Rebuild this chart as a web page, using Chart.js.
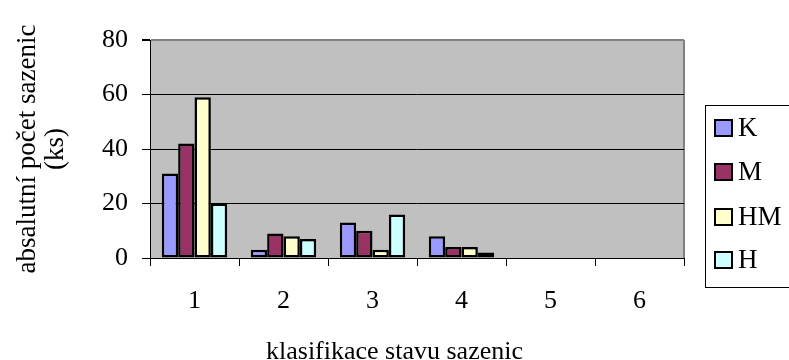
<!DOCTYPE html>
<html>
<head>
<meta charset="utf-8">
<script src="https://cdn.jsdelivr.net/npm/chart.js@4/dist/chart.umd.min.js"></script>
<style>
  html, body { margin: 0; padding: 0; background: #fff; }
  #wrap { width: 789px; height: 360px; }
</style>
</head>
<body>
<div id="wrap"><canvas id="c" width="789" height="360"></canvas></div>
<script>
// Classification grades of seedlings
const categories = ['1', '2', '3', '4', '5', '6'];

// Absolute seedling counts per grade
const seriesK  = [31, 3, 13, 8, 0, 0];
const seriesM  = [42, 9, 10, 4, 0, 0];
const seriesHM = [59, 8, 3, 4, 0, 0];
const seriesH  = [20, 7, 16, 2, 0, 0];

const seriesNames = ['K', 'M', 'HM', 'H'];
const yTicks = [0, 20, 40, 60, 80];

const xTitle = 'klasifikace stavu sazenic';
const yTitle = ['absalutní počet sazenic', '(ks)'];

const FONT = '"Liberation Serif", "Times New Roman", serif';

// Grey plot area with a thin border on the right
const plotBackground = {
  id: 'plotBackground',
  beforeDraw(chart) {
    const { ctx, chartArea: a } = chart;
    ctx.save();
    ctx.fillStyle = '#C0C0C0';
    ctx.fillRect(a.left, a.top, a.right - a.left, a.bottom - a.top);
    ctx.strokeStyle = '#808080';
    ctx.lineWidth = 2;
    ctx.beginPath();
    ctx.moveTo(a.right, a.top);
    ctx.lineTo(a.right, a.bottom);
    ctx.stroke();
    ctx.restore();
  }
};

// X axis title centred on the canvas, and a boxed legend on the right
const extras = {
  id: 'extras',
  afterDraw(chart) {
    const { ctx } = chart;
    ctx.save();
    ctx.fillStyle = '#000';
    ctx.font = '26px ' + FONT;
    ctx.textAlign = 'center';
    ctx.textBaseline = 'alphabetic';
    ctx.fillText(xTitle, chart.width / 2, 359);

    // legend frame
    ctx.strokeStyle = '#000';
    ctx.lineWidth = 1;
    ctx.strokeRect(705.5, 105.5, 100, 182);

    ctx.font = '27px ' + FONT;
    const rows = [128, 172, 217, 260];
    chart.data.datasets.forEach((ds, i) => {
      const cy = rows[i];
      ctx.fillStyle = ds.backgroundColor;
      ctx.fillRect(715, cy - 8, 17, 16);
      ctx.lineWidth = 2;
      ctx.strokeStyle = '#000';
      ctx.strokeRect(715, cy - 8, 17, 16);
      ctx.fillStyle = '#000';
      ctx.textAlign = 'left';
      ctx.textBaseline = 'middle';
      ctx.fillText(ds.label, 738, cy + 1);
    });
    ctx.restore();
  }
};

const colors = ['#9999FF', '#993366', '#FFFFCC', '#CCFFFF'];
const values = [seriesK, seriesM, seriesHM, seriesH];

new Chart(document.getElementById('c'), {
  type: 'bar',
  data: {
    labels: categories,
    datasets: seriesNames.map((name, i) => ({
      label: name,
      data: values[i],
      backgroundColor: colors[i],
      borderColor: '#000',
      borderWidth: 2.5,
      borderSkipped: false,
      categoryPercentage: 0.735,
      barPercentage: 1.0
    }))
  },
  options: {
    responsive: false,
    animation: false,
    devicePixelRatio: 1,
    layout: { padding: { top: 40, right: 105, bottom: 0, left: 0 } },
    plugins: {
      legend: { display: false },
      tooltip: { enabled: false }
    },
    scales: {
      x: {
        offset: true,
        grid: {
          display: true,
          drawOnChartArea: false,
          drawTicks: true,
          tickLength: 8,
          tickColor: '#000',
          offset: true
        },
        border: { display: true, color: '#000', width: 1 },
        ticks: {
          color: '#000',
          font: { family: FONT, size: 26 },
          padding: 20,
          maxRotation: 0
        },
        afterFit(scale) { scale.height = 102; }
      },
      y: {
        min: 0,
        max: 80,
        afterBuildTicks(scale) {
          scale.ticks = yTicks.map(v => ({ value: v }));
        },
        grid: {
          drawTicks: true,
          tickLength: 8,
          tickColor: '#000',
          color: ctx => (ctx.tick && ctx.tick.value === 80 ? '#808080' : '#000'),
          lineWidth: ctx => (ctx.tick && ctx.tick.value === 80 ? 2 : 1)
        },
        border: { display: true, color: '#000', width: 1 },
        ticks: {
          color: '#000',
          font: { family: FONT, size: 26 },
          padding: 14
        },
        title: {
          display: true,
          text: yTitle,
          color: '#000',
          font: { family: FONT, size: 27, lineHeight: 1.04 },
          padding: { top: 14, bottom: 0 }
        },
        afterFit(scale) { scale.width = 150; }
      }
    }
  },
  plugins: [plotBackground, extras]
});
</script>
</body>
</html>
